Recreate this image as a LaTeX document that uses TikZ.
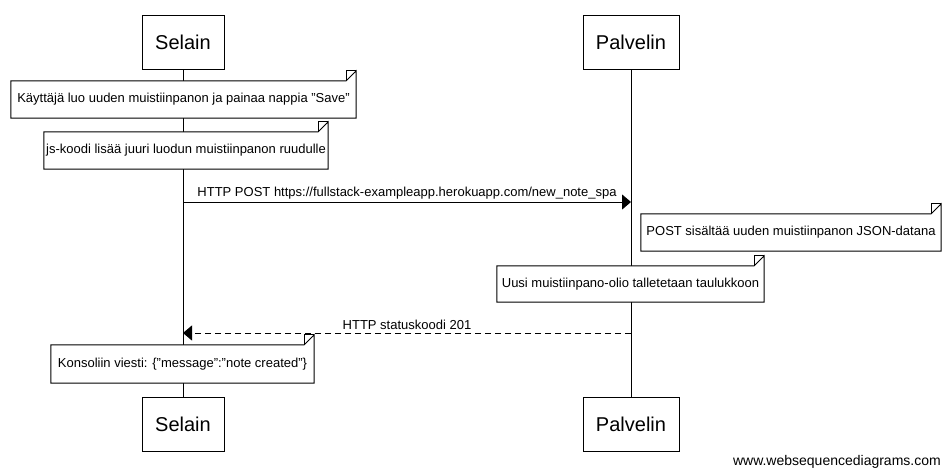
\documentclass[tikz,border=0pt]{standalone}
\usepackage{fontspec}
\setmainfont{Liberation Sans}
\usetikzlibrary{arrows.meta}
\begin{document}
\begin{tikzpicture}[x=1pt,y=-1pt,
  actor/.style={draw, line width=1pt, fill=white, minimum width=82pt, minimum height=54pt, inner sep=0pt, font=\fontsize{20}{24}\selectfont},
  notebox/.style={inner sep=0pt, font=\fontsize{13}{15}\selectfont},
  msg/.style={line width=1pt, -{Triangle[length=9pt,width=15pt]}},
  lbl/.style={font=\fontsize{13}{15}\selectfont, inner sep=0pt, anchor=base}
]
\useasboundingbox[fill=white] (0,0) rectangle (950,475);
\newcommand{\notedraw}[1]{%
  \fill[white] (#1.north west) -- ([xshift=-10pt]#1.north east) -- ([yshift=10pt]#1.north east) -- (#1.south east) -- (#1.south west) -- cycle;
  \draw[line width=1pt] (#1.north west) -- ([xshift=-10pt]#1.north east) -- ([yshift=10pt]#1.north east) -- (#1.south east) -- (#1.south west) -- cycle;
  \draw[line width=1pt] ([xshift=-10pt]#1.north east) -- ([xshift=-10pt,yshift=10pt]#1.north east) -- ([yshift=10pt]#1.north east);
}
% actors
\node[actor] (selT) at (183,42) {Selain};
\node[actor, minimum width=96pt] (palT) at (631,42) {Palvelin};
\node[actor] (selB) at (183,424) {Selain};
\node[actor, minimum width=96pt] (palB) at (631,424) {Palvelin};
% lifelines
\draw[line width=1pt] (selT.south) -- (selB.north);
\draw[line width=1pt] (palT.south) -- (palB.north);
% notes
\node[notebox, minimum width=345pt, minimum height=37pt] (n1) at (183.5,99.5) {};
\notedraw{n1}
\node[notebox] at (n1) {Käyttäjä luo uuden muistiinpanon ja painaa nappia "Save"};
\node[notebox, minimum width=284pt, minimum height=37pt] (n2) at (186,150.5) {};
\notedraw{n2}
\node[notebox] at (n2) {js-koodi lisää juuri luodun muistiinpanon ruudulle};
% message 1
\coordinate (m1s) at (183,202);
\coordinate (m1e) at (631,202);
\draw[msg] (m1s) -- (m1e);
\node[lbl] (l1) at (407,196) {HTTP POST https://fullstack-exampleapp.herokuapp.com/new\_note\_spa};
\node[notebox, minimum width=300pt, minimum height=37pt] (n3) at (791,232.5) {};
\notedraw{n3}
\node[notebox] at (n3) {POST sisältää uuden muistiinpanon JSON-datana};
\node[notebox, minimum width=267pt, minimum height=36pt] (n4) at (630.5,284) {};
\notedraw{n4}
\node[notebox] at (n4) {Uusi muistiinpano-olio talletetaan taulukkoon};
% message 2
\coordinate (m2s) at (631,333);
\coordinate (m2e) at (183,333);
\draw[msg, dash pattern=on 6pt off 4pt] (m2s) -- (m2e);
\node[lbl] (l2) at (407,329) {HTTP statuskoodi 201};
\node[notebox, minimum width=263pt, minimum height=38pt] (n5) at (182.5,364) {};
\notedraw{n5}
\node[notebox] at (n5) {Konsoliin viesti: \{"message":"note created"\}};
% watermark
\node[font=\fontsize{14}{16}\selectfont, inner sep=0pt, anchor=base east] (wm) at (941,465) {www.websequencediagrams.com};
\end{tikzpicture}
\end{document}
